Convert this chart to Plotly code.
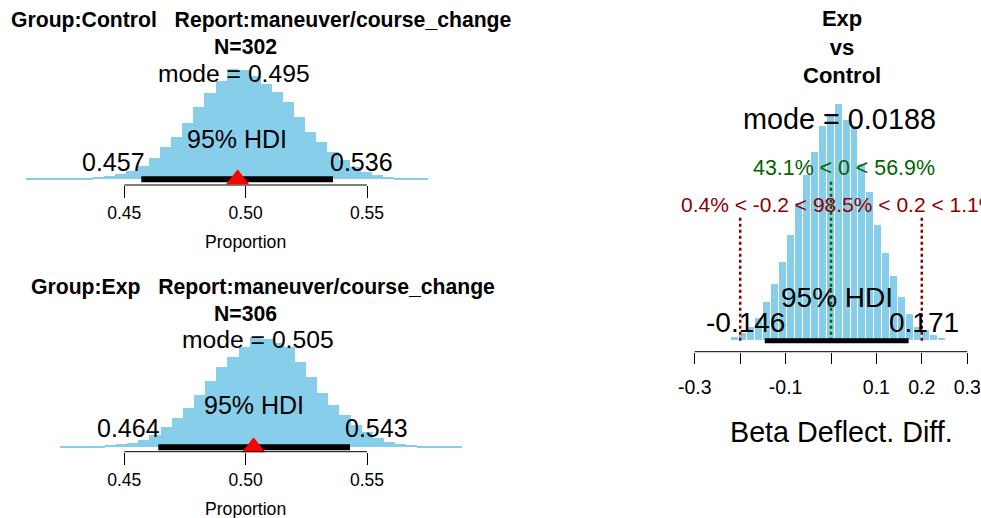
import plotly.graph_objects as go

W, H = 981, 518
FONT = "Liberation Sans, Arial, sans-serif"
SKY = "#87CEEB"

# ---------------- data ----------------
ctrl_bin_start = 0.40958
ctrl_bin_width = 0.004594
ctrl_density = [0.06, 0.07, 0.09, 0.13, 0.19, 0.28, 0.37, 0.56, 0.93, 1.57, 2.46, 3.89,
                5.93, 7.78, 10.48, 13.44, 16.04, 18.26, 20.37, 20.19, 19.07, 17.59, 16.22,
                14.37, 11.59, 8.81, 6.96, 5.11, 3.57, 2.22, 1.39, 0.83, 0.46, 0.28, 0.19, 0.09]

exp_bin_start = 0.42369
exp_bin_width = 0.004594
exp_density = [0.07, 0.11, 0.17, 0.24, 0.37, 0.56, 0.83, 1.39, 2.31, 3.70, 5.37, 7.22,
               9.63, 12.22, 14.93, 16.78, 18.63, 20.37, 20.00, 19.26, 18.63, 15.85, 13.07,
               10.00, 7.83, 5.98, 4.07, 2.78, 1.67, 1.02, 0.65, 0.46, 0.28, 0.19, 0.11, 0.07]

diff_bin_start = -0.2372
diff_bin_width = 0.01751
diff_density = [0.02, 0.07, 0.16, 0.30, 0.49, 0.83, 1.20, 1.68, 2.25, 2.94, 3.53, 4.02,
                4.57, 4.82, 5.04, 4.70, 4.57, 3.77, 3.17, 2.46, 1.86, 1.38, 0.94, 0.57,
                0.30, 0.23, 0.12, 0.05]

ctrl_hdi = [0.457, 0.536]
ctrl_mode = 0.495
ctrl_n = 302
ctrl_k = 150
exp_hdi = [0.464, 0.543]
exp_mode = 0.505
exp_n = 306
exp_k = 154

diff_hdi = [-0.146, 0.171]
diff_mode = 0.0188
comp_val = 0
pct_below_comp, pct_above_comp = 43.1, 56.9
rope = [-0.2, 0.2]
pct_below_rope, pct_in_rope, pct_above_rope = 0.4, 98.5, 1.1

prop_ticks = [0.45, 0.50, 0.55]
prop_tick_labels = ["0.45", "0.50", "0.55"]
diff_ticks = [-0.3, -0.2, -0.1, 0.0, 0.1, 0.2, 0.3]
diff_tick_labels = ["-0.3", "", "-0.1", "", "0.1", "0.2", "0.3"]

# ---------------- geometry helpers ----------------
def fx(px):
    return px / W

def fy(py):
    return 1 - py / H

def xrange_for(dom_px, ref_val, ref_px, ppu):
    return [ref_val + (dom_px[0] - ref_px) / ppu, ref_val + (dom_px[1] - ref_px) / ppu]

def yrange_for(dom_px, base_px, ppu):
    top, bottom = dom_px
    return [-(bottom - base_px) / ppu, (base_px - top) / ppu]

def centers(start, width, n):
    return [start + width * (i + 0.5) for i in range(n)]

fig = go.Figure()

# panel specs
P1 = dict(xd=(0, 470), yd=(55, 185), base=179.3, peak=110.0, dens=ctrl_density,
          xref_val=0.45, xref_px=124.3, xppu=2427.0)
P2 = dict(xd=(0, 470), yd=(322, 451.7), base=447.3, peak=110.0, dens=exp_density,
          xref_val=0.45, xref_px=124.3, xppu=2427.0)
P3 = dict(xd=(660, 981), yd=(90, 351.7), base=340.7, peak=236.7, dens=diff_density,
          xref_val=0.0, xref_px=831.0, xppu=454.0)

for P in (P1, P2, P3):
    P["yppu"] = P["peak"] / max(P["dens"])
    P["xr"] = xrange_for(P["xd"], P["xref_val"], P["xref_px"], P["xppu"])
    P["yr"] = yrange_for(P["yd"], P["base"], P["yppu"])

# ---------------- traces ----------------
panels = [
    (P1, "x", "y", ctrl_bin_start, ctrl_bin_width, ctrl_density, ctrl_hdi, ctrl_k / ctrl_n, False),
    (P2, "x2", "y2", exp_bin_start, exp_bin_width, exp_density, exp_hdi, exp_k / exp_n, False),
    (P3, "x3", "y3", diff_bin_start, diff_bin_width, diff_density, diff_hdi, None, True),
]

for P, xa, ya, st, bw, dens, hdi, obs, borders in panels:
    fig.add_trace(go.Bar(
        x=centers(st, bw, len(dens)), y=dens, width=bw if borders else bw * 1.04,
        marker=dict(color=SKY, line=dict(color="white", width=1 if borders else 0)),
        xaxis=xa, yaxis=ya, showlegend=False, hoverinfo="skip"))
    if borders:
        M = max(dens)
        fig.add_trace(go.Scatter(
            x=[comp_val, comp_val], y=[0, 0.96 * 0.7 * M], mode="lines",
            line=dict(color="#006400", width=2.5, dash="dot"),
            xaxis=xa, yaxis=ya, showlegend=False, hoverinfo="skip"))
        fig.add_trace(go.Scatter(
            x=[rope[0], rope[0], None, rope[1], rope[1]],
            y=[0, 0.96 * 0.55 * M, None, 0, 0.96 * 0.55 * M], mode="lines",
            line=dict(color="#8B0000", width=2.5, dash="dot"),
            xaxis=xa, yaxis=ya, showlegend=False, hoverinfo="skip"))
    fig.add_trace(go.Scatter(
        x=hdi, y=[0, 0], mode="lines", line=dict(color="black", width=6 if not borders else 5),
        xaxis=xa, yaxis=ya, showlegend=False, hoverinfo="skip"))
    if obs is not None:
        fig.add_trace(go.Scatter(
            x=[obs], y=[0], mode="markers", cliponaxis=False,
            marker=dict(symbol="triangle-up", size=20, color="red", line=dict(width=0)),
            xaxis=xa, yaxis=ya, showlegend=False, hoverinfo="skip"))

# ---------------- axes ----------------
def xaxis_cfg(P, anchor, tickvals, ticktext, fsize, ticklen, standoff):
    return dict(domain=[fx(P["xd"][0]), fx(P["xd"][1])], range=P["xr"], anchor=anchor,
                tickmode="array", tickvals=tickvals, ticktext=ticktext,
                ticks="outside", ticklen=ticklen, tickwidth=1, tickcolor="black",
                ticklabelstandoff=standoff,
                showline=False, showgrid=False, zeroline=False,
                tickfont=dict(size=fsize, color="black", family=FONT), fixedrange=True)

def yaxis_cfg(P, anchor):
    return dict(domain=[fy(P["yd"][1]), fy(P["yd"][0])], range=P["yr"], anchor=anchor,
                visible=False, fixedrange=True)

layout = dict(
    width=W, height=H, autosize=False,
    margin=dict(l=0, r=0, t=0, b=0, pad=0),
    paper_bgcolor="white", plot_bgcolor="rgba(0,0,0,0)",
    bargap=0, showlegend=False,
    font=dict(family=FONT, color="black"),
    xaxis=xaxis_cfg(P1, "y", prop_ticks, prop_tick_labels, 17.5, 12, 0),
    yaxis=yaxis_cfg(P1, "x"),
    xaxis2=xaxis_cfg(P2, "y2", prop_ticks, prop_tick_labels, 17.5, 12, 0),
    yaxis2=yaxis_cfg(P2, "x2"),
    xaxis3=xaxis_cfg(P3, "y3", diff_ticks, diff_tick_labels, 19.5, 11, 7),
    yaxis3=yaxis_cfg(P3, "x3"),
)
fig.update_layout(**layout)

# axis lines spanning first..last tick (R style)
shapes = []
for xa, ya, tv in (("x", "y", prop_ticks), ("x2", "y2", prop_ticks), ("x3", "y3", diff_ticks)):
    shapes.append(dict(type="line", xref=xa, yref=ya + " domain", x0=tv[0], x1=tv[-1],
                       y0=0, y1=0, line=dict(color="black", width=1)))
fig.update_layout(shapes=shapes)

# ---------------- annotations ----------------
def ann(text, x, y_px, size, xref="paper", xanchor="center", xshift=0, color="black"):
    return dict(text=text, x=x, xref=xref, y=fy(y_px), yref="paper",
                xanchor=xanchor, yanchor="middle", xshift=xshift, showarrow=False,
                font=dict(size=size, color=color, family=FONT))

S3 = "\u00a0\u00a0\u00a0"
anns = [
    # Control panel
    ann("<b>Group:Control" + S3 + "Report:maneuver/course_change</b>", fx(261), 20, 21.2),
    ann("<b>N=%d</b>" % ctrl_n, fx(245.7), 46.3, 21.2),
    ann("mode = %g" % ctrl_mode, ctrl_mode, 73.3, 24.7, xref="x"),
    ann("95% HDI", sum(ctrl_hdi) / 2, 139.2, 25, xref="x"),
    ann("%g" % ctrl_hdi[0], ctrl_hdi[0], 161.8, 25, xref="x", xanchor="right", xshift=5.4),
    ann("%g" % ctrl_hdi[1], ctrl_hdi[1], 161.8, 25, xref="x", xanchor="left", xshift=-4.7),
    ann("Proportion", fx(245.5), 241.7, 17.6),
    # Exp panel
    ann("<b>Group:Exp" + S3 + "Report:maneuver/course_change</b>", fx(262.5), 287, 21.2),
    ann("<b>N=%d</b>" % exp_n, fx(245.7), 313.3, 21.2),
    ann("mode = %g" % exp_mode, exp_mode, 339.5, 24.7, xref="x2"),
    ann("95% HDI", sum(exp_hdi) / 2, 405, 25, xref="x2"),
    ann("%g" % exp_hdi[0], exp_hdi[0], 427.8, 25, xref="x2", xanchor="right", xshift=3.4),
    ann("%g" % exp_hdi[1], exp_hdi[1], 427.8, 25, xref="x2", xanchor="left", xshift=-6.7),
    ann("Proportion", fx(245.5), 508.8, 17.6),
    # Diff panel
    ann("<b>Exp<br>vs<br>Control</b>", fx(841.7), 47, 22),
    ann("mode = %g" % diff_mode, diff_mode, 119.2, 28.8, xref="x3"),
    ann("%.1f%% < %g < %.1f%%" % (pct_below_comp, comp_val, pct_above_comp),
        comp_val, 168, 21.4, xref="x3", xanchor="left", xshift=-80.3, color="#006400"),
    ann("%.1f%% < %g < %.1f%% < %g < %.1f%%" % (pct_below_rope, rope[0], pct_in_rope,
                                                rope[1], pct_above_rope),
        rope[0], 204.2, 21, xref="x3", xanchor="left", xshift=-60.8, color="#8B0000"),
    ann("95% HDI", sum(diff_hdi) / 2, 297.5, 28, xref="x3"),
    ann("%g" % diff_hdi[0], diff_hdi[0], 322.5, 28, xref="x3", xanchor="right", xshift=22),
    ann("%g" % diff_hdi[1], diff_hdi[1], 322.5, 28, xref="x3", xanchor="left", xshift=-21.9),
    ann("Beta Deflect. Diff.", fx(841.7), 431.7, 28.7),
]
fig.update_layout(annotations=anns)

fig.write_html("out.html", config={"displayModeBar": False},
               post_script="document.body.style.margin='0px';")
